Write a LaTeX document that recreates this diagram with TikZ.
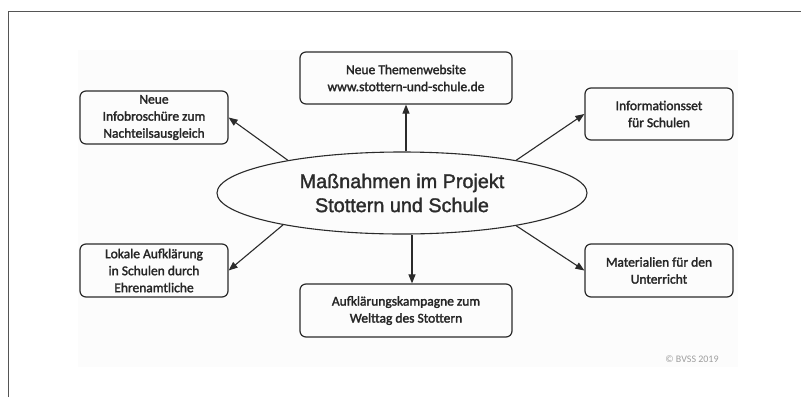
\documentclass[tikz,border=0pt]{standalone}
\usepackage{fontspec}
\setmainfont{Liberation Sans}[FakeBold=1.5]
\newfontfamily\boxfont{Carlito}[FakeBold=2]
\newfontfamily\copyfont{Carlito}
\usetikzlibrary{arrows.meta,shapes.geometric}
\definecolor{inkc}{HTML}{2B2B2B}
\definecolor{txtc}{HTML}{262626}
\definecolor{bgc}{HTML}{FCFCFC}
\definecolor{framec}{HTML}{555555}
\tikzset{
  boxnode/.style={draw=inkc, line width=1.2pt, rounded corners=6pt, align=center,
    inner sep=0pt, font=\boxfont\fontsize{13.5}{17}\selectfont, text=txtc},
  ellnode/.style={draw=inkc, line width=1.1pt, ellipse, inner sep=0pt,
    minimum width=370pt, minimum height=82pt, align=center,
    font=\fontsize{19.8}{24}\selectfont, text=inkc},
  arr/.style={draw=inkc, line width=1.1pt, -{Triangle[length=9pt,width=7pt]}},
  framel/.style={draw=framec, line width=1pt}
}
\begin{document}
\begin{tikzpicture}[x=1pt,y=-1pt]
\useasboundingbox (0,0) rectangle (801,397);
\fill[bgc] (78,50) rectangle (738,367);
\draw[framel] (8,397) -- (8,11) -- (801,11);

\node[ellnode] (ell) at (402,193) {Maßnahmen im Projekt\\Stottern und Schule};

\node[boxnode, minimum width=148pt, minimum height=53pt] (tl) at (154,117.5)
  {Neue\\Infobroschüre zum\\Nachteilsausgleich};
\node[boxnode, minimum width=212pt, minimum height=52pt] (tc) at (406,78)
  {Neue Themenwebsite\\www.stottern-und-schule.de};
\node[boxnode, minimum width=148pt, minimum height=52pt] (tr) at (659,114)
  {Informationsset\\für Schulen};
\node[boxnode, minimum width=148pt, minimum height=53pt] (bl) at (154,270.5)
  {Lokale Aufklärung\\in Schulen durch\\Ehrenamtliche};
\node[boxnode, minimum width=212pt, minimum height=53pt] (bc) at (406,310.5)
  {Aufklärungskampagne zum\\Welttag des Stottern};
\node[boxnode, minimum width=148pt, minimum height=53pt] (br) at (659,270.5)
  {Materialien für den\\Unterricht};

\node[font=\copyfont\fontsize{10}{12}\selectfont, text=black!38, inner sep=0pt] (copy) at (692,359) {© BVSS 2019};

\draw[arr] (ell.164) -- (tl.east);
\draw[arr] (tc.south |- ell.north) -- (tc.south);
\draw[arr] (ell.16) -- (tr.west);
\draw[arr] (ell.195.5) -- (bl.east);
\draw[arr] ([xshift=10pt]ell.south) -- ([xshift=10pt]ell.south |- bc.north);
\draw[arr] (ell.344.6) -- (br.west);
\end{tikzpicture}
\end{document}
